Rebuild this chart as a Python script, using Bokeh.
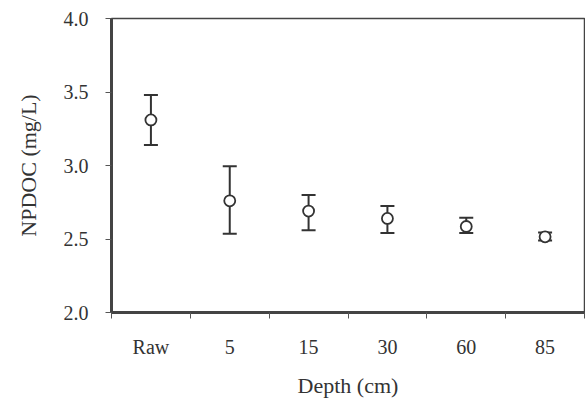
from bokeh.plotting import figure
from bokeh.models import ColumnDataSource, Range1d, FixedTicker, Whisker
from bokeh.embed import file_html
from bokeh.resources import INLINE

categories = ["Raw", "5", "15", "30", "60", "85"]
means = [3.31, 2.76, 2.69, 2.64, 2.585, 2.515]
upper = [3.48, 2.995, 2.80, 2.725, 2.645, 2.545]
lower = [3.14, 2.535, 2.56, 2.54, 2.54, 2.49]
y_ticks = [2.0, 2.5, 3.0, 3.5, 4.0]

xs = [i + 0.5 for i in range(len(categories))]
src = ColumnDataSource(dict(x=xs, y=means, upper=upper, lower=lower))

p = figure(width=585, height=400, output_backend="svg", toolbar_location=None,
           x_range=Range1d(0, len(categories)), y_range=Range1d(2.0, 4.0),
           min_border_left=111, min_border_right=1, min_border_top=18, min_border_bottom=84)
p.background_fill_color = "white"
p.border_fill_color = "white"
p.outline_line_color = "#444444"
p.outline_line_width = 1.5
p.grid.visible = False

line_col = "#333333"
w = Whisker(source=src, base="x", upper="upper", lower="lower", line_color=line_col, line_width=2)
w.upper_head.size = 14
w.lower_head.size = 14
w.upper_head.line_color = line_col
w.lower_head.line_color = line_col
w.upper_head.line_width = 2
w.lower_head.line_width = 2
p.add_layout(w)
p.scatter("x", "y", source=src, size=11, marker="circle", fill_color="white",
          line_color=line_col, line_width=1.8)

font = "Liberation Serif"
text_col = "#333333"

xa = p.xaxis[0]
xa.ticker = FixedTicker(ticks=xs, minor_ticks=list(range(len(categories) + 1)))
xa.major_label_overrides = {x: c for x, c in zip(xs, categories)}
xa.major_tick_out = 0
xa.major_tick_in = 0
xa.minor_tick_out = 6
xa.minor_tick_in = 0
xa.minor_tick_line_color = "#555555"
xa.axis_label = "Depth (cm)"

ya = p.yaxis[0]
ya.ticker = FixedTicker(ticks=y_ticks, minor_ticks=[])
ya.major_label_overrides = {t: f"{t:.1f}" for t in y_ticks}
ya.major_tick_out = 6
ya.major_tick_in = 0
ya.major_tick_line_color = "#555555"
ya.axis_label = "NPDOC (mg/L)"

for ax in (xa, ya):
    ax.axis_line_color = "#444444"
    ax.axis_line_width = 3
    ax.major_label_text_font = font
    ax.major_label_text_font_size = "20px"
    ax.major_label_text_color = text_col
    ax.axis_label_text_font = font
    ax.axis_label_text_font_size = "22px"
    ax.axis_label_text_font_style = "normal"
    ax.axis_label_text_color = text_col

xa.major_label_standoff = 17
xa.axis_label_standoff = 12
ya.major_label_standoff = 17
ya.axis_label_standoff = 20

open("out.html", "w").write(file_html(p, INLINE))
